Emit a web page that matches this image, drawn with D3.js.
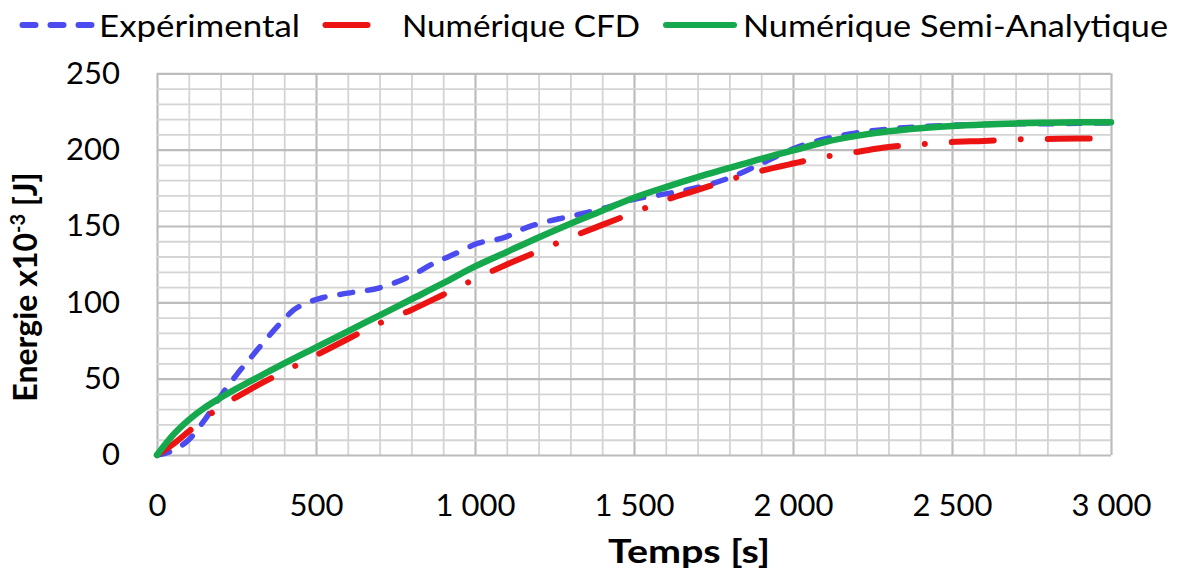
<!DOCTYPE html>
<html>
<head>
<meta charset="utf-8">
<script src="https://cdn.jsdelivr.net/npm/d3@7"></script>
<style>
  body { margin: 0; background: #fff; }
  text { font-family: Lato, 'Open Sans', sans-serif; fill: #000; }
</style>
</head>
<body>
<div id="chart"></div>
<script>
  // Expérimental (mesures)
  let expTime   = [0, 50, 100, 150, 200, 250, 300, 350, 400, 430, 470, 520, 600, 700, 800, 870, 950, 1000, 1100, 1150, 1200,
                   1300, 1400, 1500, 1600, 1700, 1800, 1900, 2000, 2100, 2200, 2300, 2400, 2500, 2600, 2700, 2800, 2900, 3000]
  let expEnergy = [0, 3, 10, 23, 38.5, 52.5, 65, 77.5, 89, 95, 99.5, 103, 106, 109.5, 117.5, 125.5, 133, 138, 143, 148, 151.5,
                   156.3, 161.3, 167.5, 171, 175.2, 181.5, 190.8, 200.5, 207, 211, 213.5, 215, 216, 216.5, 217, 217, 217.3, 217.5]

  // Numérique CFD / Semi-Analytique
  let numTime   = [0, 50, 100, 150, 200, 300, 400, 500, 600, 700, 800, 900, 1000, 1100, 1200, 1300, 1400, 1500,
                   1600, 1700, 1800, 1900, 2000, 2100, 2200, 2300, 2400, 2500, 2600, 2700, 2800, 2900, 3000]
  let cfdEnergy = [0, 7, 15.5, 24, 31.5, 43.8, 54.7, 65.3, 76, 86.3, 95, 105, 115.2, 124.8, 133.6, 142.5, 150.7, 158.8,
                   167, 173.6, 180.3, 186.1, 190.9, 195.3, 198.5, 201.7, 203.5, 205, 205.7, 206.7, 207, 207.3, 207.5]
  let semEnergy = [0, 13, 23, 31, 37.5, 49, 60, 70.5, 81, 91.5, 102, 112.5, 123.5, 133, 142.5, 151.5, 160, 168.5,
                   175.5, 182, 188, 194, 199.5, 205, 209, 212, 214, 215.5, 216.5, 217.2, 217.6, 217.9, 218]

  let xTicks = [0, 500, 1000, 1500, 2000, 2500, 3000]
  let yTicks = [0, 50, 100, 150, 200, 250]
  let legendLabels = ['Expérimental', 'Numérique CFD', 'Numérique Semi-Analytique']

  let width = 1178, height = 575
  let x = d3.scaleLinear().domain([0, 3000]).range([157, 1111])
  let y = d3.scaleLinear().domain([0, 250]).range([455, 73.3])

  let fr = d3.formatLocale({ decimal: ',', thousands: ' ', grouping: [3], currency: ['', ''] })
  let fmt = fr.format(',d')

  let svg = d3.select('#chart')
              .append('svg:svg')
              .attr('width', width)
              .attr('height', height)

  // grille
  let minor = '#d4d4d4', major = '#bcbcbc'
  svg.append('g')
    .attr('transform', `translate(0,${y(0)})`)
    .call(d3.axisBottom(x).tickValues(d3.range(0, 3001, 100)).tickSize(-(y(0) - y(250))).tickFormat(''))
    .call(g => g.select('.domain').remove())
    .selectAll('line')
      .attr('stroke', d => d % 500 ? minor : major)
      .attr('stroke-width', d => d % 500 ? 1.8 : 2.2)

  svg.append('g')
    .attr('transform', `translate(${x(0)},0)`)
    .call(d3.axisLeft(y).tickValues(d3.range(0, 251, 10)).tickSize(-(x(3000) - x(0))).tickFormat(''))
    .call(g => g.select('.domain').remove())
    .selectAll('line')
      .attr('stroke', d => d % 50 ? minor : major)
      .attr('stroke-width', d => d % 50 ? 1.8 : 2.2)

  // étiquettes des axes
  let xa = svg.append('g')
    .attr('transform', `translate(0,${y(0)})`)
    .call(d3.axisBottom(x).tickValues(xTicks).tickSize(0).tickPadding(39).tickFormat(fmt))
  let ya = svg.append('g')
    .attr('transform', `translate(${x(0)},0)`)
    .call(d3.axisLeft(y).tickValues(yTicks).tickSize(0).tickPadding(37))
  ;[xa, ya].forEach(a => {
    a.select('.domain').remove()
    a.selectAll('text').attr('font-size', 31).attr('font-family', null).attr('fill', '#000')
  })

  // courbes
  let line = d3.line()
               .x(d => x(d[0]))
               .y(d => y(d[1]))
               .curve(d3.curveMonotoneX)

  let series = [
    { pts: d3.zip(expTime, expEnergy), color: '#4b4bef', w: 5.5, dash: '13,15' },
    { pts: d3.zip(numTime, cfdEnergy), color: '#ec1313', w: 6,   dash: '42,27,0.01,27' },
    { pts: d3.zip(numTime, semEnergy), color: '#16a84c', w: 6.5, dash: null }
  ]

  svg.append('g').selectAll('path').data(series).enter()
    .append('svg:path')
      .attr('d', d => line(d.pts))
      .attr('fill', 'none')
      .attr('stroke', d => d.color)
      .attr('stroke-width', d => d.w)
      .attr('stroke-linecap', 'round')
      .attr('stroke-linejoin', 'round')
      .attr('stroke-dasharray', d => d.dash)

  // légende
  let legX = [[22.5, 91.5, 99, 201], [325.5, 367.5, 402, 238], [666, 734, 743, 425]]
  let leg = svg.append('g')
  legendLabels.forEach((lab, i) => {
    let s = series[i], p = legX[i]
    leg.append('line')
      .attr('x1', p[0]).attr('x2', p[1]).attr('y1', 25).attr('y2', 25)
      .attr('stroke', s.color).attr('stroke-width', 6)
      .attr('stroke-linecap', 'round')
      .attr('stroke-dasharray', i == 0 ? '13,15' : null)
    leg.append('text')
      .attr('x', p[2]).attr('y', 37)
      .attr('font-size', 31)
      .attr('textLength', p[3])
      .attr('lengthAdjust', 'spacingAndGlyphs')
      .text(lab)
  })

  // titres
  svg.append('text')
    .attr('x', 689).attr('y', 563)
    .attr('text-anchor', 'middle')
    .attr('font-size', 32).attr('font-weight', 'bold')
    .attr('textLength', 162).attr('lengthAdjust', 'spacingAndGlyphs')
    .text('Temps [s]')

  let yt = svg.append('text')
    .attr('transform', 'translate(37,287) rotate(-90)')
    .attr('text-anchor', 'middle')
    .attr('font-size', 32).attr('font-weight', 'bold')
  yt.append('tspan').text('Energie x10')
  yt.append('tspan').attr('font-size', 20).attr('dy', -12).text('-3')
  yt.append('tspan').attr('dy', 12).text(' [J]')
</script>
</body>
</html>
